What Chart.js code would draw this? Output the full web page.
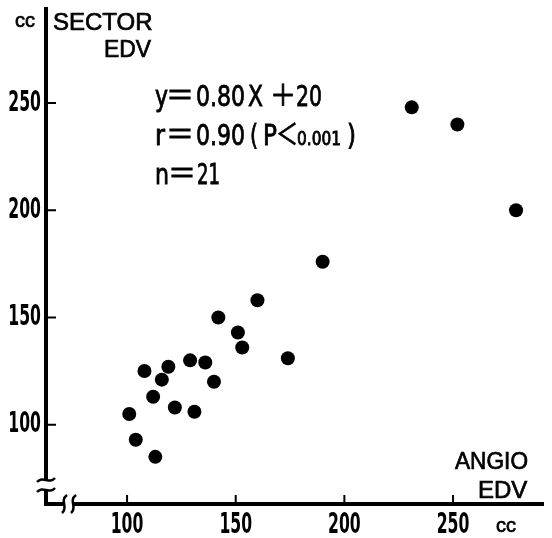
<!DOCTYPE html>
<html>
<head>
<meta charset="utf-8">
<script src="https://cdn.jsdelivr.net/npm/chart.js@4"></script>
<style>
  html, body { margin: 0; padding: 0; background: #fff; }
  #wrap { width: 552px; height: 538px; }
</style>
</head>
<body>
<div id="wrap"><canvas id="edvChart" width="552" height="538"></canvas></div>
<script>
// Angio EDV (cc) vs Sector EDV (cc), 21 patients
const angioEdv  = [160, 142, 151, 153, 174, 129, 136, 119, 108, 116, 140,
                   112, 122, 131, 101, 104, 113, 190, 231, 252, 279];
const sectorEdv = [158, 150, 143, 136, 131, 130, 129, 127, 125, 121, 120,
                   113, 108, 106, 105, 93, 85, 176, 248, 240, 200];
const xTicks = [100, 150, 200, 250];
const yTicks = [100, 150, 200, 250];

const NARROW = "'DejaVu Sans Condensed', 'Liberation Sans Narrow', sans-serif";
const SANS = "'Liberation Sans', Arial, sans-serif";
const CJK = "'Noto Sans CJK JP', sans-serif";
const SQUEEZE = 0.6; // tick digits in the scan are very condensed

// squeeze the library's own tick labels horizontally
const narrowTicks = {
  id: 'narrowTicks',
  afterLayout(chart) {
    ['x', 'y'].forEach(id => {
      const s = chart.scales[id];
      if (s._narrowed) return;
      s._narrowed = true;
      const orig = s.drawLabels;
      s.drawLabels = function(area) {
        const c = this.ctx;
        const ft = CanvasRenderingContext2D.prototype.fillText;
        c.fillText = function(t, x, y) {
          return ft.call(this, t, x, y, this.measureText(t).width * SQUEEZE);
        };
        orig.call(this, area);
        delete c.fillText;
      };
    });
  }
};

// text, inward ticks and axis breaks drawn on top of the chart
const decorations = {
  id: 'decorations',
  afterDraw(chart) {
    const ctx = chart.ctx;
    const xs = chart.scales.x, ys = chart.scales.y;
    const area = chart.chartArea;
    ctx.save();
    ctx.fillStyle = '#000';
    ctx.strokeStyle = '#000';

    // inward tick marks
    ctx.lineWidth = 2;
    ctx.beginPath();
    xTicks.forEach(v => {
      const px = xs.getPixelForValue(v);
      ctx.moveTo(px, area.bottom);
      ctx.lineTo(px, area.bottom - 9);
    });
    yTicks.forEach(v => {
      const py = ys.getPixelForValue(v);
      ctx.moveTo(area.left, py);
      ctx.lineTo(area.left + 10, py);
    });
    ctx.stroke();

    // axis breaks
    ctx.fillStyle = '#fff';
    ctx.fillRect(area.left - 5, 481, 10, 8);
    ctx.fillRect(64, area.bottom - 4, 9, 8);
    ctx.lineWidth = 2.5;
    [480, 490].forEach(y => {
      ctx.beginPath();
      ctx.moveTo(area.left - 9, y + 2);
      ctx.bezierCurveTo(area.left - 3, y - 5, area.left + 3, y + 5, area.left + 9, y - 2);
      ctx.stroke();
    });
    [64, 73].forEach(x => {
      ctx.beginPath();
      ctx.moveTo(x + 3, area.bottom - 9);
      ctx.bezierCurveTo(x - 5, area.bottom - 3, x + 5, area.bottom + 3, x - 2, area.bottom + 9);
      ctx.stroke();
    });

    // labels
    ctx.fillStyle = '#000';
    ctx.textBaseline = 'alphabetic';
    ctx.textAlign = 'left';
    ctx.lineWidth = 0.7;
    const put = (txt, x, y, font, w, heavy) => {
      ctx.font = font;
      ctx.fillText(txt, x, y, w);
      if (heavy) ctx.strokeText(txt, x, y, w);
    };
    put('cc', 15, 27, '20px ' + SANS, 26, true);
    put('SECTOR', 53, 30, '24px ' + SANS, 103, true);
    put('EDV', 104, 57, '24px ' + SANS, 47, true);
    put('ANGIO', 455, 469, '24px ' + SANS, 73, true);
    put('EDV', 478, 498, '24px ' + SANS, 50, true);
    put('cc', 496, 532, '20px ' + SANS, 26, true);

    const stat = '29px ' + NARROW;
    const eq = '29px ' + CJK;
    ctx.lineWidth = 0.8;
    // row 1
    put('y', 155, 106, stat, 13, true);
    put('＝', 166, 106, eq, 28, true);
    put('0.80', 196, 106, stat, 49, true);
    put('X', 248, 106, stat, 15, true);
    put('＋', 270, 106, eq, 26, true);
    put('20', 296, 106, stat, 26, true);
    // row 2
    put('r', 155, 145, stat, 10, true);
    put('＝', 166, 145, eq, 28, true);
    put('0.90', 196, 145, stat, 49, true);
    put('(', 250, 145, stat, 8, true);
    put('P', 263, 145, stat, 14, true);
    put('＜', 276, 145, eq, 22, true);
    put('0.001', 297, 145, '19px ' + NARROW, 44, true);
    put(')', 347, 145, stat, 9, true);
    // row 3
    put('n', 155, 184, stat, 14, true);
    put('＝', 168, 184, eq, 28, true);
    put('21', 197, 184, stat, 23, true);
    ctx.restore();
  }
};

const ctx = document.getElementById('edvChart').getContext('2d');
const chart = new Chart(ctx, {
  type: 'scatter',
  data: {
    datasets: [{
      label: 'EDV',
      data: angioEdv.map((x, i) => ({ x: x, y: sectorEdv[i] })),
      backgroundColor: '#000',
      borderWidth: 0,
      pointRadius: 7,
      pointHoverRadius: 7
    }]
  },
  options: {
    responsive: false,
    animation: false,
    events: [],
    layout: { padding: { top: 5, right: 9, left: 0, bottom: 0 } },
    plugins: { legend: { display: false }, tooltip: { enabled: false } },
    scales: {
      x: {
        type: 'linear',
        min: 62.7,
        max: 291.4,
        afterBuildTicks: s => { s.ticks = xTicks.map(v => ({ value: v })); },
        afterFit: s => { s.height = 34; },
        grid: { display: false, drawTicks: false },
        border: { display: true, color: '#000', width: 4 },
        ticks: {
          color: '#000',
          padding: 4,
          maxRotation: 0,
          font: { family: NARROW, size: 29, weight: 'bold' }
        }
      },
      y: {
        type: 'linear',
        min: 63.0,
        max: 293.7,
        afterBuildTicks: s => { s.ticks = yTicks.map(v => ({ value: v })); },
        afterFit: s => { s.width = 46; },
        grid: { display: false, drawTicks: false },
        border: { display: true, color: '#000', width: 4 },
        ticks: {
          color: '#000',
          padding: 5,
          font: { family: NARROW, size: 29, weight: 'bold', lineHeight: 0.3 }
        }
      }
    }
  },
  plugins: [narrowTicks, decorations]
});
</script>
</body>
</html>
